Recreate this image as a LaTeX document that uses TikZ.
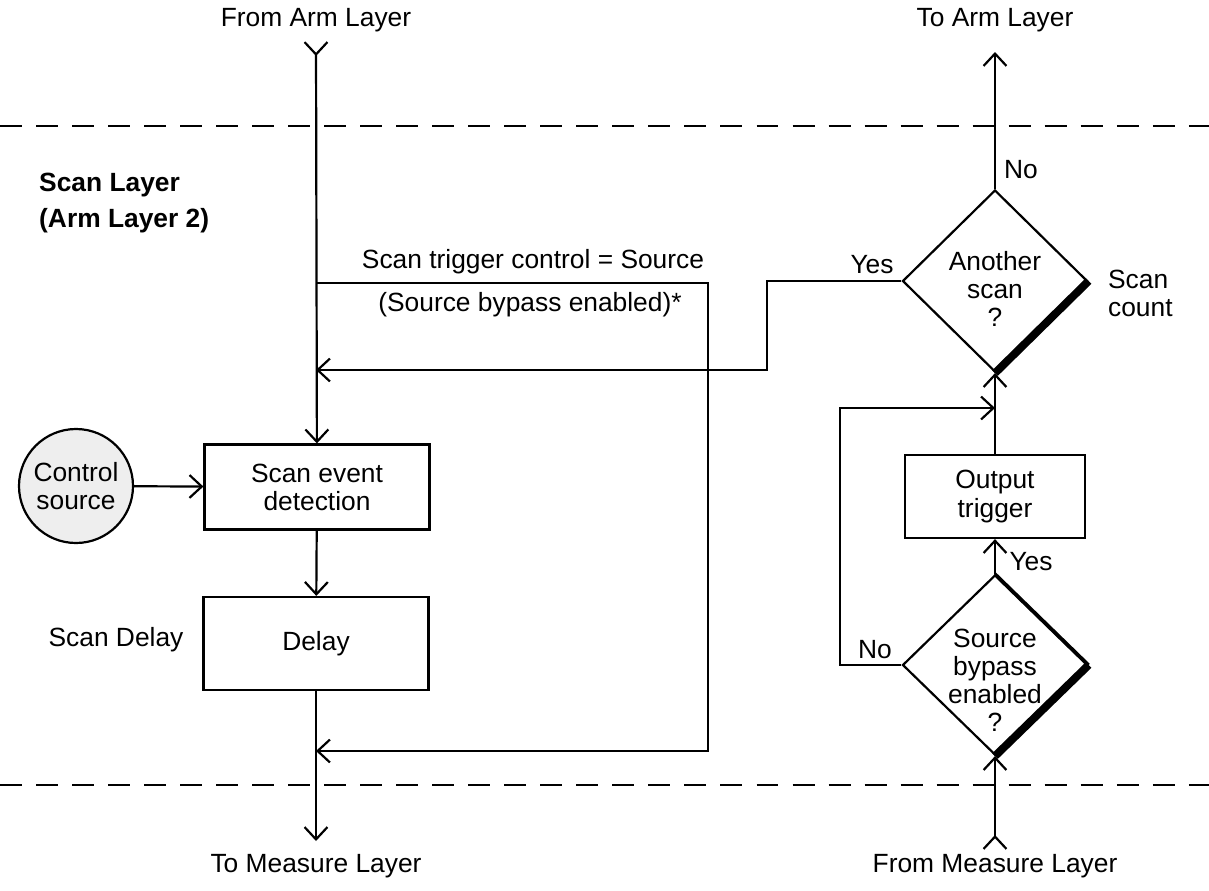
\documentclass[tikz,border=0pt]{standalone}
\usepackage{fontspec}
\setmainfont{Liberation Sans}
\definecolor{SrcGray}{RGB}{238, 238, 238}
\usepackage{tikz}
\usetikzlibrary{arrows.meta, positioning, shapes.geometric}

\begin{document}
\begin{tikzpicture}[
  every node/.style={font=\fontsize{15}{16}\selectfont},
  box/.style={draw, line width=1.25pt, fill=white, align=center, minimum width=4.5cm, minimum height=1.7cm},
  dec/.style={diamond, draw, line width=1.25pt, fill=white, align=center, inner sep=-14pt, minimum width=3.7cm, minimum height=3.64cm},
  src/.style={circle, draw, line width=1.25pt, fill=SrcGray, align=center, minimum size=2.28cm, inner sep=0pt},
  lab/.style={align=center, inner sep=1pt},
  layer/.style={font=\fontsize{15}{16}\selectfont\bfseries, anchor=west},
  arr/.style={-{Straight Barb[length=7pt, width=13pt]}, line width=1.25pt},
  tarr/.style={{Straight Barb[reversed, length=7pt, width=13pt]}-{Straight Barb[length=7pt, width=13pt]}, line width=1.25pt},
  border/.style={line width=1.25pt, dash pattern=on 12.5pt off 8pt}]
\useasboundingbox (0, 0) rectangle (24.18, -17.8);
\draw[border] (0, -2.52) -- (24.18, -2.52);
\draw[border] (0, -15.7) -- (24.18, -15.7);
\node[lab] (fromArm) at (6.32, -0.40) {From Arm Layer};
\node[lab] (toArm) at (19.9, -0.40) {To Arm Layer};
\node[lab] (toMeas) at (6.32, -17.32) {To Measure Layer};
\node[lab] (fromMeas) at (19.9, -17.32) {From Measure Layer};
\node[layer] (scanLay) at (0.66, -3.70) {Scan Layer};
\node[layer] (armLay) at (0.66, -4.42) {(Arm Layer 2)};
\node[src] (ctrl) at (1.52, -9.72) {Control\\ source};
\node[box] (detect) at (6.34, -9.74) {Scan event\\ detection};
\node[box, minimum height=1.86cm] (delay) at (6.32, -12.87) {Delay};
\node[lab] (scanDelay) at (2.32, -12.8) {Scan Delay};
\node[box, minimum width=3.6cm, minimum height=1.66cm] (outTrig) at (19.9, -9.93) {Output\\ trigger};
\node[dec] (another) at (19.9, -5.62) {\rule{0pt}{20pt}Another\\ scan\\ ?};
\node[dec, minimum height=3.6cm] (bypass) at (19.9, -13.3) {\rule{0pt}{28pt}Source\\ bypass\\ enabled\\ ?};
\node[lab, anchor=west, align=left] (scanCount) at (22.12, -5.86) {Scan\\ count};
\node[lab] (trigCtl) at (10.66, -5.24) {Scan trigger control = Source};
\node[lab] (bypassEn) at (10.6, -6.10) {(Source bypass enabled)*};
\node[lab] (yesA) at (17.44, -5.30) {Yes};
\node[lab] (noA) at (20.42, -3.40) {No};
\node[lab] (yesB) at (20.62, -11.24) {Yes};
\node[lab] (noB) at (17.5, -13.0) {No};
\coordinate (armIn) at (6.32, -0.82);
\coordinate (armOut) at (19.9, -1.04);
\coordinate (measOut) at (6.32, -16.82);
\coordinate (measIn) at (19.9, -17.0);
\coordinate (tap) at (6.32, -5.66);
\coordinate (joinA) at (6.32, -7.40);
\coordinate (joinB) at (6.32, -15.02);
\coordinate (joinC) at (19.9, -8.16);
\draw[line width=4.5pt] (another.east) -- (another.south);
\draw[line width=1.9pt] (bypass.north) -- (bypass.east);
\draw[line width=4.5pt] (bypass.east) -- (bypass.south);
\draw[tarr] (armIn) -- (detect); \draw[arr] (ctrl) -- (detect); \draw[arr] (detect) -- (delay); \draw[arr] (delay) -- (measOut);
\draw[arr] (tap) -- (14.16, -5.66) -- (14.16, -15.02) -- (joinB);
\draw[arr] (another.west) -| (15.34, -7.40) -- (joinA);
\draw[arr] (another) -- (armOut); \draw[arr] (outTrig) -- (another); \draw[arr] (bypass) -- (outTrig);
\draw[tarr] (measIn) -- (bypass.south);
\draw[arr] (bypass.west) -| (16.8, -8.16) -- (joinC);
\end{tikzpicture}
\end{document}
